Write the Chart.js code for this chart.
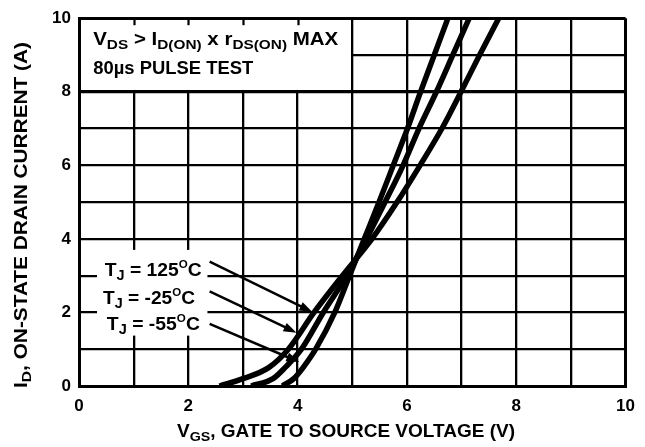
<!DOCTYPE html>
<html>
<head>
<meta charset="utf-8">
<script src="https://cdn.jsdelivr.net/npm/chart.js@4.4.1/dist/chart.umd.min.js"></script>
<style>
  html, body { margin: 0; padding: 0; background: #fff; }
  canvas { display: block; }
</style>
</head>
<body>
<canvas id="mycanvas" width="645" height="447"></canvas>
<script>
// drain current levels (A)
var idLevels = [0, 0.2, 0.5, 1, 2, 3, 4, 5, 6, 7, 8, 9, 10];
// gate-source voltage (V) where each curve reaches those levels
var vgs125 = [2.57, 3.0, 3.47, 3.83, 4.3, 4.82, 5.36, 5.82, 6.24, 6.64, 6.99, 7.33, 7.68];
var vgsM25 = [3.15, 3.55, 3.77, 4.07, 4.47, 4.9, 5.26, 5.6, 5.93, 6.22, 6.54, 6.84, 7.14];
var vgsM55 = [3.72, 3.93, 4.1, 4.33, 4.68, 4.95, 5.22, 5.49, 5.75, 6.01, 6.25, 6.5, 6.75];
var xTicks = [0, 2, 4, 6, 8, 10];
var yTicks = [0, 2, 4, 6, 8, 10];

var fam = '"Liberation Sans", Arial, sans-serif';

function toPoints(xs) {
	var pts = [];
	for (var i = 0; i < xs.length; i++) {
		pts.push({x: xs[i], y: idLevels[i]});
	}
	return pts;
}

// text pieces: [text, 0 normal / 1 subscript / 2 superscript]
var boxLine1 = [["V", 0], ["DS", 1], [" > I", 0], ["D(ON)", 1], [" x r", 0], ["DS(ON)", 1], [" MAX", 0]];
var boxLine2 = [["80\u00b5s PULSE TEST", 0]];
var xTitle = [["V", 0], ["GS", 1], [", GATE TO SOURCE VOLTAGE (V)", 0]];
var yTitle = [["I", 0], ["D", 1], [", ON-STATE DRAIN CURRENT (A)", 0]];

// labels with arrows (positions in data units)
var tempLabels = [
	{segs: [["T", 0], ["J", 1], [" = 125", 0], ["O", 2], ["C", 0]], x: 0.47, y: 3.0, w: 97, tail: [2.39, 3.38], head: [4.27, 2.01]},
	{segs: [["T", 0], ["J", 1], [" = -25", 0], ["O", 2], ["C", 0]], x: 0.44, y: 2.23, w: 92, tail: [2.39, 2.57], head: [3.98, 1.45]},
	{segs: [["T", 0], ["J", 1], [" = -55", 0], ["O", 2], ["C", 0]], x: 0.51, y: 1.53, w: 93, tail: [2.39, 1.69], head: [4.03, 0.65]}
];

function segSize(s, size) {
	if (s[1] === 1) return size * 0.75;
	if (s[1] === 2) return size * 0.6;
	return size;
}

function richWidth(ctx, segs, size) {
	var w = 0;
	segs.forEach(function(s) {
		ctx.font = 'bold ' + segSize(s, size) + 'px ' + fam;
		w += ctx.measureText(s[0]).width;
	});
	return w;
}

function drawRich(ctx, segs, x, y, size, width, align, angle) {
	var nat = richWidth(ctx, segs, size);
	var sx = width ? width / nat : 1;
	ctx.save();
	ctx.translate(x, y);
	if (angle) ctx.rotate(angle);
	ctx.scale(sx, 1);
	var cx = align === 'center' ? -nat / 2 : 0;
	ctx.fillStyle = '#000';
	ctx.textBaseline = 'alphabetic';
	ctx.textAlign = 'left';
	segs.forEach(function(s) {
		var dy = 0;
		if (s[1] === 1) dy = size * 0.22;
		if (s[1] === 2) dy = -size * 0.4;
		ctx.font = 'bold ' + segSize(s, size) + 'px ' + fam;
		ctx.fillText(s[0], cx, dy);
		cx += ctx.measureText(s[0]).width;
	});
	ctx.restore();
}

function arrow(ctx, x1, y1, x2, y2) {
	var a = Math.atan2(y2 - y1, x2 - x1);
	var L = 13, W = 4.5;
	var c = Math.cos(a), s = Math.sin(a);
	ctx.strokeStyle = '#000';
	ctx.fillStyle = '#000';
	ctx.lineWidth = 2.5;
	ctx.beginPath();
	ctx.moveTo(x1, y1);
	ctx.lineTo(x2 - L * 0.8 * c, y2 - L * 0.8 * s);
	ctx.stroke();
	ctx.beginPath();
	ctx.moveTo(x2, y2);
	ctx.lineTo(x2 - L * c + W * s, y2 - L * s - W * c);
	ctx.lineTo(x2 - L * c - W * s, y2 - L * s + W * c);
	ctx.closePath();
	ctx.fill();
}

var overlay = {
	id: 'overlay',
	beforeDatasetsDraw: function(chart) {
		var ctx = chart.ctx, xs = chart.scales.x, ys = chart.scales.y, area = chart.chartArea;
		ctx.save();
		ctx.fillStyle = '#fff';
		// test-condition box
		var bx0 = xs.getPixelForValue(0) + 2, bx1 = xs.getPixelForValue(5) - 1.3;
		var by0 = area.top + 1.8, by1 = ys.getPixelForValue(8) - 1.8;
		ctx.fillRect(bx0, by0, bx1 - bx0, by1 - by0);
		// small ticks left at the top of the box
		ctx.strokeStyle = '#000';
		ctx.lineWidth = 2.2;
		for (var v = 1; v < 5; v++) {
			var px = Math.round(xs.getPixelForValue(v)) + 0.5;
			ctx.beginPath();
			ctx.moveTo(px, area.top);
			ctx.lineTo(px, area.top + 7);
			ctx.stroke();
		}
		// white block behind the temperature labels
		var lx0 = xs.getPixelForValue(0.33), lx1 = xs.getPixelForValue(2.35);
		var ly0 = ys.getPixelForValue(3.7), ly1 = ys.getPixelForValue(1.37);
		ctx.fillStyle = '#fff';
		ctx.fillRect(lx0, ly0, lx1 - lx0, ly1 - ly0);
		ctx.restore();
	},
	afterDatasetsDraw: function(chart) {
		var ctx = chart.ctx, xs = chart.scales.x, ys = chart.scales.y;
		ctx.save();
		drawRich(ctx, boxLine1, xs.getPixelForValue(0.26), ys.getPixelForValue(9.28), 18, 245);
		drawRich(ctx, boxLine2, xs.getPixelForValue(0.26), ys.getPixelForValue(8.47), 18, 160);
		tempLabels.forEach(function(l) {
			drawRich(ctx, l.segs, xs.getPixelForValue(l.x), ys.getPixelForValue(l.y), 19, l.w);
			arrow(ctx, xs.getPixelForValue(l.tail[0]), ys.getPixelForValue(l.tail[1]),
				xs.getPixelForValue(l.head[0]), ys.getPixelForValue(l.head[1]));
		});
		drawRich(ctx, xTitle, 346, 437, 18, 338, 'center');
		drawRich(ctx, yTitle, 27, 215, 18, 346, 'center', -Math.PI / 2);
		ctx.restore();
	}
};

function gridWidth(c) {
	var v = c.tick ? c.tick.value : null;
	if (v === 0 || v === 10) return 3;
	if (c.scale.axis === 'y' && v === 8) return 3.2;
	return 2.3;
}

Chart.defaults.font.family = fam;

var ctx = document.getElementById('mycanvas');
var curveStyle = {
	showLine: true,
	borderColor: '#000',
	backgroundColor: '#000',
	borderWidth: 5.5,
	pointRadius: 0,
	fill: false,
	cubicInterpolationMode: 'monotone'
};

var chart = new Chart(ctx, {
	type: 'scatter',
	data: {
		datasets: [
			Object.assign({label: 'TJ = 125\u00b0C', data: toPoints(vgs125)}, curveStyle),
			Object.assign({label: 'TJ = -25\u00b0C', data: toPoints(vgsM25)}, curveStyle),
			Object.assign({label: 'TJ = -55\u00b0C', data: toPoints(vgsM55)}, curveStyle)
		]
	},
	options: {
		responsive: false,
		animation: false,
		devicePixelRatio: 1,
		layout: {padding: {left: 0, right: 18, top: 13, bottom: 0}},
		plugins: {legend: {display: false}, tooltip: {enabled: false}},
		scales: {
			x: {
				type: 'linear',
				min: 0,
				max: 10,
				afterFit: function(scale) { scale.height = 61; },
				grid: {color: '#000', lineWidth: gridWidth, drawTicks: false},
				border: {display: true, color: '#000', width: 3},
				ticks: {
					stepSize: 1,
					padding: 10,
					color: '#000',
					font: {size: 17, weight: 'bold'},
					maxRotation: 0,
					autoSkip: false,
					callback: function(v) { return xTicks.indexOf(v) >= 0 ? v : ''; }
				}
			},
			y: {
				type: 'linear',
				min: 0,
				max: 10,
				afterFit: function(scale) { scale.width = 79; },
				grid: {color: '#000', lineWidth: gridWidth, drawTicks: false},
				border: {display: true, color: '#000', width: 3},
				ticks: {
					stepSize: 1,
					padding: 8,
					color: '#000',
					font: {size: 17, weight: 'bold'},
					autoSkip: false,
					callback: function(v) { return yTicks.indexOf(v) >= 0 ? v : ''; }
				}
			}
		}
	},
	plugins: [overlay]
});
</script>
</body>
</html>
